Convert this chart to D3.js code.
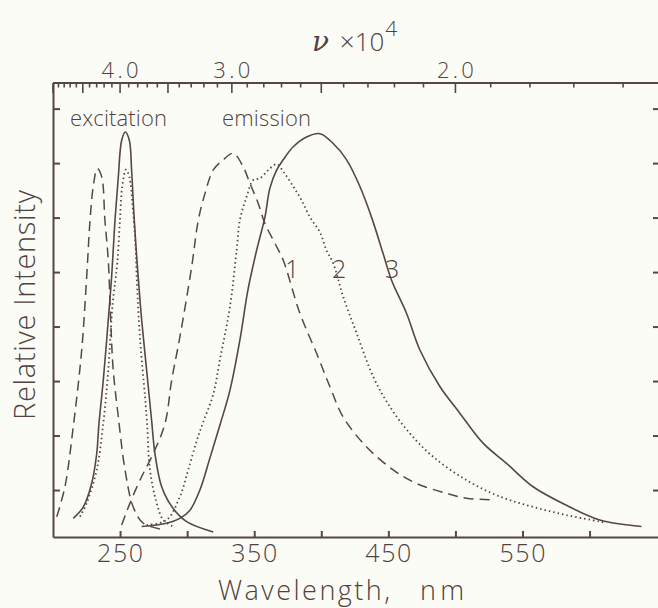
<!DOCTYPE html>
<html><head><meta charset="utf-8">
<script src="https://cdn.jsdelivr.net/npm/d3@7"></script>
<style>
body{margin:0;background:#fcfcf7}
svg{display:block}
text{font-family:"Open Sans","DejaVu Sans",sans-serif;font-weight:300;fill:#4f4240}
</style>
</head><body>
<svg id="chart" width="658" height="608"></svg>
<script>
// ---- data ----
const wavelengthTicks = [250, 300, 350, 400, 450, 500, 550, 600];
const wavelengthLabels = [250, 350, 450, 550];
const wavenumberTicks = [5.0,4.9,4.8,4.7,4.6,4.5,4.4,4.3,4.2,4.1,4.0,3.9,3.8,3.7,3.6,3.5,3.4,3.3,3.2,3.1,3.0,2.9,2.8,2.7,2.6,2.5,2.4,2.3,2.2,2.1,2.0,1.9,1.8,1.7,1.6];
const wavenumberMajor = [5.0, 4.5, 4.0, 3.5, 3.0, 2.5, 2.0];
const wavenumberLabels = [4.0, 3.0, 2.0];
const intensityTicks = [1, 2, 3, 4, 5, 6, 7, 8];

// [wavelength nm, relative intensity]
const excitation1 = [[202.8,0.51],[208.9,1.06],[215.1,2.16],[221.4,3.57],[225.1,4.91],[227.6,5.95],[230.0,6.57],[233.0,6.90],[236.3,6.75],[238.7,5.95],[241.2,5.22],[243.0,4.12],[244.9,3.20],[248.7,2.34],[253.7,1.37],[259.8,0.69],[267.3,0.39],[283.5,0.27]];
const excitation2 = [[220.1,0.51],[225.1,0.76],[232.6,1.37],[237.5,2.23],[241.2,3.20],[244.5,4.43],[247.9,5.16],[249.9,5.95],[251.6,6.57],[254.4,6.88],[256.9,6.75],[259.4,6.20],[261.5,5.50],[262.4,4.91],[264.8,3.81],[268.6,2.71],[270.2,2.20],[272.3,1.37],[277.3,0.76],[282.2,0.45],[289.6,0.33]];
const excitation3 = [[215.1,0.48],[222.6,0.69],[228.8,1.12],[232.6,1.67],[234.2,2.2],[237.5,3.02],[241.2,4.12],[243.7,4.91],[246.2,5.95],[248.7,6.75],[251.2,7.42],[253.9,7.57],[256.9,7.42],[258.6,6.87],[260.6,5.95],[263.1,5.04],[266.1,4.12],[269.8,3.20],[273.5,2.28],[276.0,1.67],[281.0,1.06],[289.6,0.66],[299.6,0.42],[319.4,0.23]];
const emission1 = [[251.2,0.36],[257.4,0.76],[264.8,1.18],[274.7,1.67],[283.5,2.22],[288.5,3.02],[294.6,3.81],[303.4,5.10],[308.3,5.95],[313.3,6.44],[319.4,6.87],[326.9,7.06],[334.4,7.18],[341.8,6.93],[346.8,6.63],[353.0,6.26],[358.0,5.89],[365.4,5.53],[371.6,5.22],[384.1,4.24],[396.5,3.51],[406.4,2.90],[416.3,2.34],[433.8,1.79],[453.6,1.37],[471.0,1.12],[493.4,0.94],[508.3,0.85],[526.9,0.82]];
const emission2 = [[269.8,0.36],[284.7,0.45],[294.6,0.88],[300.8,1.37],[307.1,1.90],[312.0,2.25],[319.4,2.75],[324.4,3.39],[331.9,4.36],[336.9,5.40],[339.3,5.95],[344.3,6.38],[349.3,6.69],[354.2,6.72],[360.4,6.87],[366.7,6.98],[372.1,6.83],[379.1,6.57],[385.3,6.32],[391.5,6.01],[399.0,5.73],[403.9,5.40],[408.9,5.16],[416.3,4.55],[426.3,3.88],[438.7,3.08],[451.1,2.53],[466.0,2.04],[483.4,1.61],[508.3,1.18],[533.1,0.88],[557.9,0.69],[582.8,0.54],[607.6,0.42],[612.4,0.39]];
const emission3 = [[266.1,0.33],[284.7,0.39],[294.6,0.48],[302.1,0.63],[309.5,1.00],[317.0,1.59],[324.4,2.19],[331.9,2.83],[339.3,3.75],[345.3,4.67],[351.8,5.40],[358.0,6.01],[361.7,6.54],[366.7,6.87],[371.6,7.06],[379.1,7.30],[389.0,7.48],[399.0,7.54],[408.9,7.36],[418.9,7.06],[428.8,6.57],[437.7,5.99],[446.1,5.34],[452.4,4.85],[463.6,4.24],[473.5,3.57],[488.4,2.90],[503.3,2.41],[520.6,1.86],[538.1,1.49],[557.9,1.06],[582.8,0.72],[607.6,0.45],[638.7,0.33]];

const curveLabels = [{t:"1", w:373, v:4.9}, {t:"2", w:408, v:4.9}, {t:"3", w:447.5, v:4.9}];

// ---- drawing ----
const ink = "#554745";
const svg = d3.select("#chart");
svg.append("rect").attr("width",658).attr("height",608).attr("fill","#fcfcf7");

const x = d3.scaleLinear().domain([200, 654]).range([53, 662]);
const y = d3.scaleLinear().domain([0.138, 8.47]).range([537, 83]);

const axisStyle = g => {
  g.selectAll("path,line").attr("stroke", ink).attr("stroke-width", 2);
};

// left axis
svg.append("g").attr("transform","translate(53,0)")
  .call(d3.axisLeft(y).tickValues(intensityTicks).tickSize(-7).tickSizeOuter(0).tickFormat(""))
  .call(axisStyle);
// right axis (ticks pointing inward)
svg.append("g").attr("transform","translate(662,0)")
  .call(d3.axisLeft(y).tickValues(intensityTicks).tickSize(9).tickSizeOuter(0).tickFormat(""))
  .call(axisStyle);
// bottom axis
svg.append("g").attr("transform","translate(0,537)")
  .call(d3.axisBottom(x).tickValues(wavelengthTicks).tickSize(-6).tickSizeOuter(0).tickFormat(""))
  .call(axisStyle);
svg.append("g").selectAll("text").data(wavelengthLabels).join("text")
  .attr("x", d => x(d)).attr("y", 562).attr("text-anchor","middle")
  .attr("font-size", 25).attr("textLength", 46).attr("lengthAdjust","spacing").text(d => d);

// top axis: wavenumber (x10^4 cm^-1) = 1000 / wavelength(nm)
const topG = svg.append("g");
topG.append("line").attr("x1", x(200)).attr("x2", x(654)).attr("y1", 83).attr("y2", 83)
  .attr("stroke", ink).attr("stroke-width", 2);
topG.selectAll("line.t").data(wavenumberTicks).join("line").attr("class","t")
  .attr("x1", d => x(1000/d)).attr("x2", d => x(1000/d))
  .attr("y1", 83).attr("y2", d => 83 + (wavenumberMajor.includes(d) ? 10 : 4.5))
  .attr("stroke", ink).attr("stroke-width", 1.6);
topG.selectAll("text").data(wavenumberLabels).join("text")
  .attr("x", d => x(1000/d)).attr("y", 78).attr("text-anchor","middle")
  .attr("font-size", 22).attr("textLength", 37).attr("lengthAdjust","spacing").text(d => d.toFixed(1));

// titles
const t = svg.append("text").attr("x", 312).attr("y", 51).attr("font-size", 26);
t.append("tspan").attr("font-style","italic").attr("font-family","'DejaVu Serif',serif").attr("font-size",28).text("ν");
t.append("tspan").attr("dx", 4).text(" ×10");
t.append("tspan").attr("dy", -15).attr("dx", 1).attr("font-size", 21).text("4");

const xl = svg.append("text").attr("y", 600).attr("font-size", 27);
xl.append("tspan").attr("x", 218).attr("textLength", 172).attr("lengthAdjust","spacing").text("Wavelength,");
xl.append("tspan").attr("x", 420).attr("textLength", 44).attr("lengthAdjust","spacing").text("nm");

svg.append("text").attr("transform","translate(35,305) rotate(-90)")
  .attr("text-anchor","middle").attr("font-size", 29)
  .attr("textLength", 230).attr("lengthAdjust","spacing").text("Relative Intensity");

svg.append("text").attr("x", 70).attr("y", 126).attr("font-size", 22)
  .attr("textLength", 97).attr("lengthAdjust","spacing").text("excitation");
svg.append("text").attr("x", 222).attr("y", 126).attr("font-size", 22)
  .attr("textLength", 89).attr("lengthAdjust","spacing").text("emission");

// curves
const line = d3.line().x(d => x(d[0])).y(d => y(d[1])).curve(d3.curveCatmullRom.alpha(0.5));
const styles = {
  dashed: {dash: "10,6", w: 1.5},
  dotted: {dash: "1.5,3", w: 1.8},
  solid:  {dash: null, w: 1.6}
};
const series = [
  [excitation1, "dashed"], [excitation2, "dotted"], [excitation3, "solid"],
  [emission1, "dashed"], [emission2, "dotted"], [emission3, "solid"]
];
svg.append("g").selectAll("path").data(series).join("path")
  .attr("d", d => line(d[0]))
  .attr("fill","none").attr("stroke", ink)
  .attr("stroke-width", d => styles[d[1]].w)
  .attr("stroke-dasharray", d => styles[d[1]].dash);

svg.append("g").selectAll("text").data(curveLabels).join("text")
  .attr("x", d => x(d.w)).attr("y", d => y(d.v)).attr("font-size", 25).text(d => d.t);
</script>
</body></html>
